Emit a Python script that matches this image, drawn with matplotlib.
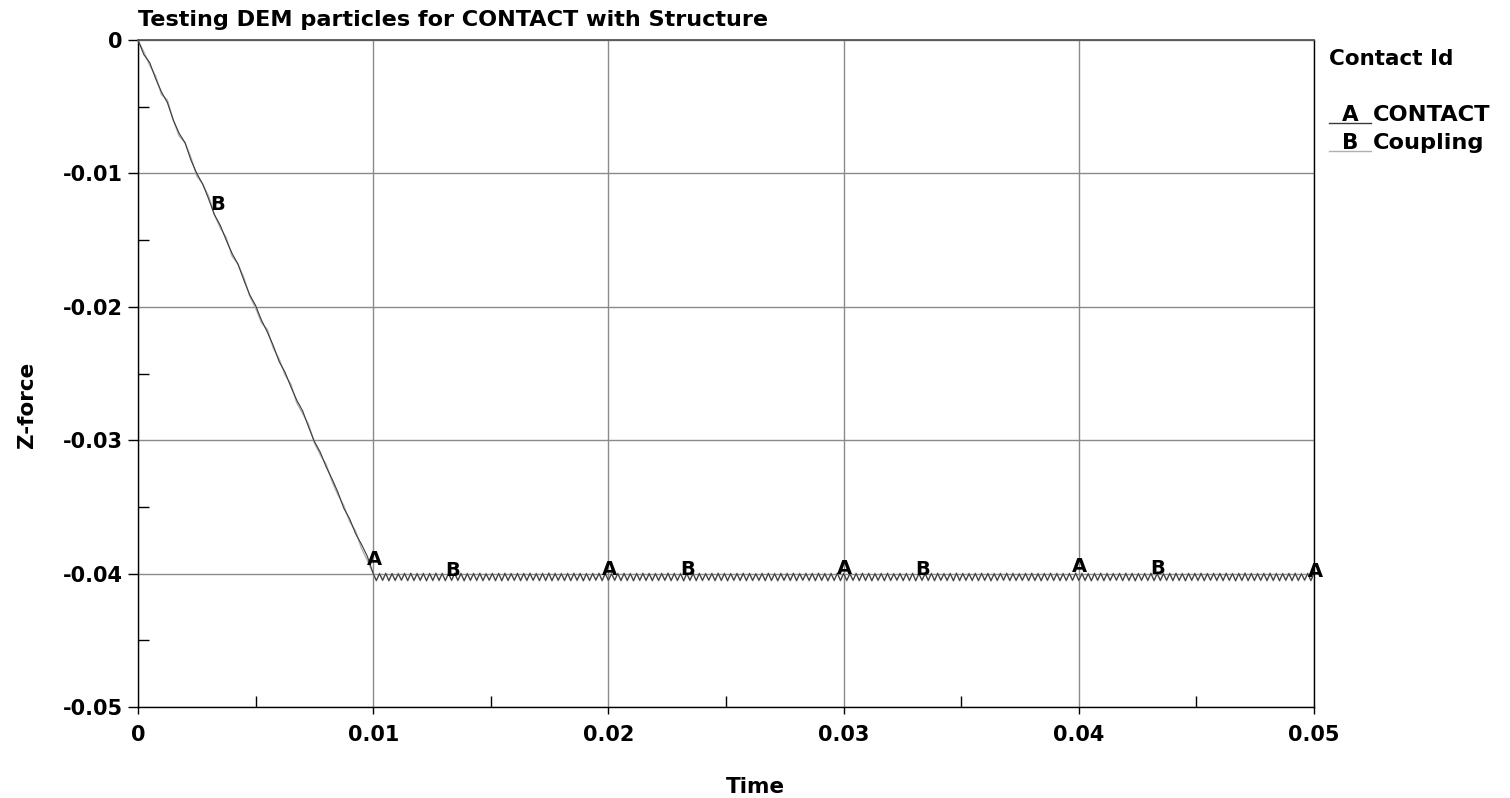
import numpy as np
import matplotlib
matplotlib.use("Agg")
import matplotlib.pyplot as plt
from matplotlib.ticker import MultipleLocator, FixedLocator

# ---- data (force in units of 1e-5) ----
# loading ramp, sampled every 0.00025 s
t_ramp = [i * 0.00025 for i in range(41)]
ramp_a = [0, -110, -170, -290, -390, -470, -600, -700, -770, -900,
          -1000, -1080, -1190, -1310, -1390, -1500, -1600, -1680, -1800, -1910,
          -1990, -2100, -2190, -2290, -2410, -2490, -2600, -2700, -2780, -2900,
          -3010, -3090, -3200, -3290, -3390, -3510, -3590, -3700, -3780, -3870,
          -4000]
ramp_b = [0, -90, -190, -270, -410, -450, -600, -720, -770, -880,
          -1020, -1080, -1170, -1310, -1410, -1480, -1620, -1680, -1780, -1920,
          -2010, -2120, -2170, -2310, -2390, -2510, -2580, -2720, -2800, -2880,
          -3020, -3110, -3180, -3310, -3410, -3490, -3610, -3680, -3810, -3900,
          -4000]

# resting phase, output interval 0.04/300 s
t_rest = list(np.linspace(0.01, 0.05, 301)[1:])
rest_a = [
    -4051, -4001, -4049, -3999, -4052, -4000, -4050, -4002, -4048, -4000,
    -4051, -3999, -4050, -4001, -4049, -4000, -4052, -4000, -4050, -3998,
    -4050, -4000, -4051, -4001, -4049, -3999, -4050, -4000, -4052, -4001,
    -4049, -4000, -4050, -3999, -4051, -4002, -4048, -4000, -4051, -4000,
    -4052, -3999, -4050, -4001, -4049, -4000, -4051, -4000, -4050, -3999,
    -4049, -4001, -4051, -4000, -4050, -3998, -4052, -4000, -4049, -4001,
    -4050, -4000, -4051, -3999, -4049, -4000, -4052, -4001, -4050, -4000,
    -4048, -3999, -4051, -4000, -4050, -4002, -4049, -4000, -4051, -3999,
    -4050, -4001, -4052, -4000, -4049, -3999, -4050, -4000, -4051, -4001,
    -4050, -4000, -4049, -3998, -4051, -4000, -4050, -4001, -4052, -4000,
    -4049, -3999, -4051, -4000, -4050, -4001, -4048, -4000, -4051, -3999,
    -4050, -4000, -4052, -4001, -4049, -4000, -4050, -3999, -4051, -4000,
    -4050, -4002, -4049, -4000, -4051, -3999, -4050, -4001, -4052, -4000,
    -4049, -4000, -4050, -3999, -4051, -4001, -4048, -4000, -4050, -4000,
    -4051, -3999, -4049, -4001, -4052, -4000, -4050, -3998, -4051, -4000,
    -4050, -4001, -4049, -4000, -4051, -3999, -4050, -4000, -4052, -4001,
    -4049, -4000, -4051, -3999, -4050, -4002, -4048, -4000, -4051, -4000,
    -4050, -3999, -4052, -4001, -4049, -4000, -4050, -4000, -4051, -3999,
    -4049, -4001, -4050, -4000, -4052, -3998, -4051, -4000, -4049, -4001,
    -4050, -4000, -4051, -3999, -4049, -4000, -4052, -4001, -4050, -4000,
    -4048, -3999, -4051, -4000, -4050, -4002, -4049, -4000, -4051, -3999,
    -4050, -4001, -4052, -4000, -4049, -3999, -4050, -4000, -4051, -4001,
    -4050, -4000, -4049, -3998, -4051, -4000, -4050, -4001, -4052, -4000,
    -4049, -3999, -4051, -4000, -4050, -4001, -4048, -4000, -4051, -3999,
    -4050, -4000, -4052, -4001, -4049, -4000, -4050, -3999, -4051, -4000,
    -4050, -4002, -4049, -4000, -4051, -3999, -4050, -4001, -4052, -4000,
    -4049, -4000, -4050, -3999, -4051, -4001, -4048, -4000, -4050, -4000,
    -4051, -3999, -4049, -4001, -4052, -4000, -4050, -3998, -4051, -4000,
    -4050, -4001, -4049, -4000, -4051, -3999, -4050, -4000, -4052, -4001,
    -4049, -4000, -4051, -3999, -4050, -4002, -4048, -4000, -4051, -4000,
]
rest_b = [
    -4056, -3997, -4054, -3996, -4057, -3998, -4055, -3997, -4053, -3996,
    -4056, -3995, -4055, -3997, -4054, -3996, -4057, -3997, -4055, -3995,
    -4055, -3996, -4056, -3997, -4054, -3995, -4055, -3996, -4057, -3997,
    -4054, -3996, -4055, -3995, -4056, -3998, -4053, -3996, -4056, -3996,
    -4057, -3995, -4055, -3997, -4054, -3996, -4056, -3996, -4055, -3995,
    -4054, -3997, -4056, -3996, -4055, -3994, -4057, -3996, -4054, -3997,
    -4055, -3996, -4056, -3995, -4054, -3996, -4057, -3997, -4055, -3996,
    -4053, -3995, -4056, -3996, -4055, -3998, -4054, -3996, -4056, -3995,
    -4055, -3997, -4057, -3996, -4054, -3995, -4055, -3996, -4056, -3997,
    -4055, -3996, -4054, -3994, -4056, -3996, -4055, -3997, -4057, -3996,
    -4054, -3995, -4056, -3996, -4055, -3997, -4053, -3996, -4056, -3995,
    -4055, -3996, -4057, -3997, -4054, -3996, -4055, -3995, -4056, -3996,
    -4055, -3998, -4054, -3996, -4056, -3995, -4055, -3997, -4057, -3996,
    -4054, -3996, -4055, -3995, -4056, -3997, -4053, -3996, -4055, -3996,
    -4056, -3995, -4054, -3997, -4057, -3996, -4055, -3994, -4056, -3996,
    -4055, -3997, -4054, -3996, -4056, -3995, -4055, -3996, -4057, -3997,
    -4054, -3996, -4056, -3995, -4055, -3998, -4053, -3996, -4056, -3996,
    -4055, -3995, -4057, -3997, -4054, -3996, -4055, -3996, -4056, -3995,
    -4054, -3997, -4055, -3996, -4057, -3994, -4056, -3996, -4054, -3997,
    -4055, -3996, -4056, -3995, -4054, -3996, -4057, -3997, -4055, -3996,
    -4053, -3995, -4056, -3996, -4055, -3998, -4054, -3996, -4056, -3995,
    -4055, -3997, -4057, -3996, -4054, -3995, -4055, -3996, -4056, -3997,
    -4055, -3996, -4054, -3994, -4056, -3996, -4055, -3997, -4057, -3996,
    -4054, -3995, -4056, -3996, -4055, -3997, -4053, -3996, -4056, -3995,
    -4055, -3996, -4057, -3997, -4054, -3996, -4055, -3995, -4056, -3996,
    -4055, -3998, -4054, -3996, -4056, -3995, -4055, -3997, -4057, -3996,
    -4054, -3996, -4055, -3995, -4056, -3997, -4053, -3996, -4055, -3996,
    -4056, -3995, -4054, -3997, -4057, -3996, -4055, -3994, -4056, -3996,
    -4055, -3997, -4054, -3996, -4056, -3995, -4055, -3996, -4057, -3997,
    -4054, -3996, -4056, -3995, -4055, -3998, -4053, -3996, -4056, -3996,
]

curve_ids = ["A", "B"]
curve_names = ["CONTACT", "Coupling"]
label_times_a = [0.01, 0.02, 0.03, 0.04, 0.05]
label_times_b = [0.00333, 0.01333, 0.02333, 0.03333, 0.04333]

x_ticks = [0, 0.01, 0.02, 0.03, 0.04, 0.05]
x_tick_labels = ["0", "0.01", "0.02", "0.03", "0.04", "0.05"]
y_ticks = [0, -0.01, -0.02, -0.03, -0.04, -0.05]
y_tick_labels = ["0", "-0.01", "-0.02", "-0.03", "-0.04", "-0.05"]

title = "Testing DEM particles for CONTACT with Structure"
x_label = "Time"
y_label = "Z-force"
legend_title = "Contact Id"

# ---- assemble series ----
t_a = np.array(t_ramp + t_rest)
f_a = np.array(ramp_a + rest_a) * 1e-5
t_b = np.array(t_ramp + t_rest)
f_b = np.array(ramp_b + rest_b) * 1e-5

# upper envelope of each curve, used to seat the id letters
env_a_t = np.array(t_ramp + [t_rest[-1]])
env_a_f = np.array(ramp_a + [max(rest_a)]) * 1e-5
env_b_t = np.array(t_ramp + [t_rest[-1]])
env_b_f = np.array(ramp_b + [max(rest_b)]) * 1e-5

plt.rcParams["font.family"] = ["DejaVu Sans"]
plt.rcParams["font.weight"] = "bold"

FS = 15.5

fig = plt.figure(figsize=(15.10, 7.98), dpi=100)
ax = fig.add_axes([138 / 1510, 1 - 707 / 798, (1314 - 138) / 1510, (707 - 40) / 798])

col_a = "#3a3a3a"
col_b = "#b0b0b0"
ax.plot(t_b, f_b, color=col_b, lw=1.0, zorder=3)
ax.plot(t_a, f_a, color=col_a, lw=0.8, zorder=4)

ax.set_xlim(0, 0.05)
ax.set_ylim(-0.05, 0)

ax.xaxis.set_major_locator(FixedLocator(x_ticks))
ax.set_xticklabels(x_tick_labels)
ax.yaxis.set_major_locator(FixedLocator(y_ticks))
ax.set_yticklabels(y_tick_labels)
ax.xaxis.set_minor_locator(MultipleLocator(0.005))
ax.yaxis.set_minor_locator(MultipleLocator(0.005))

ax.tick_params(axis="x", which="major", direction="out", length=5, width=1,
               labelsize=15, pad=8)
ax.tick_params(axis="y", which="major", direction="out", length=7, width=1,
               labelsize=15, pad=4)
ax.tick_params(which="minor", direction="in", length=8, width=1)
for lab in ax.get_xticklabels() + ax.get_yticklabels():
    lab.set_fontweight("bold")

ax.grid(True, which="major", color="#8a8a8a", lw=1.0, zorder=1)
for side in ["left", "bottom", "right"]:
    ax.spines[side].set_color("black")
    ax.spines[side].set_linewidth(1.0)
ax.spines["top"].set_color("#555555")
ax.spines["top"].set_linewidth(1.3)

# curve id letters along each line
def put_ids(times, tt, ff, letter, offsets):
    for t0, dy in zip(times, offsets):
        y0 = np.interp(t0, tt, ff)
        ax.annotate(letter, xy=(t0, y0), xytext=(1, dy), textcoords="offset pixels",
                    ha="center", va="center", fontsize=14, fontweight="bold",
                    color="black", zorder=5, annotation_clip=False)

put_ids(label_times_a, env_a_t, env_a_f, "A", [14, 4, 5, 7, 2])
put_ids(label_times_b, env_b_t, env_b_f, "B", [15, 3, 4, 4, 4])

fig.text(138 / 1510, 1 - 20 / 798, title, ha="left", va="center",
         fontsize=16.1, fontweight="bold")
fig.text(755 / 1510, 1 - 787 / 798, x_label, ha="center", va="center",
         fontsize=FS, fontweight="bold")
fig.text(27 / 1510, 1 - 405 / 798, y_label, ha="center", va="center",
         rotation=90, fontsize=FS, fontweight="bold")

# legend block
fig.text(1329 / 1510, 1 - 59 / 798, legend_title, ha="left", va="center",
         fontsize=FS, fontweight="bold")
leg_cols = [col_a, col_b]
leg_y = [115, 143]
for cid, name, c, yy in zip(curve_ids, curve_names, leg_cols, leg_y):
    fig.text(1350 / 1510, 1 - yy / 798, cid, ha="center", va="center",
             fontsize=FS, fontweight="bold")
    fig.text(1373 / 1510, 1 - yy / 798, name, ha="left", va="center",
             fontsize=16.2, fontweight="bold")
    fig.add_artist(plt.Line2D([1329 / 1510, 1371 / 1510],
                              [1 - (yy + 8) / 798, 1 - (yy + 8) / 798],
                              color=c, lw=1.0, transform=fig.transFigure))

fig.savefig("out.png", dpi=100, facecolor="white")
